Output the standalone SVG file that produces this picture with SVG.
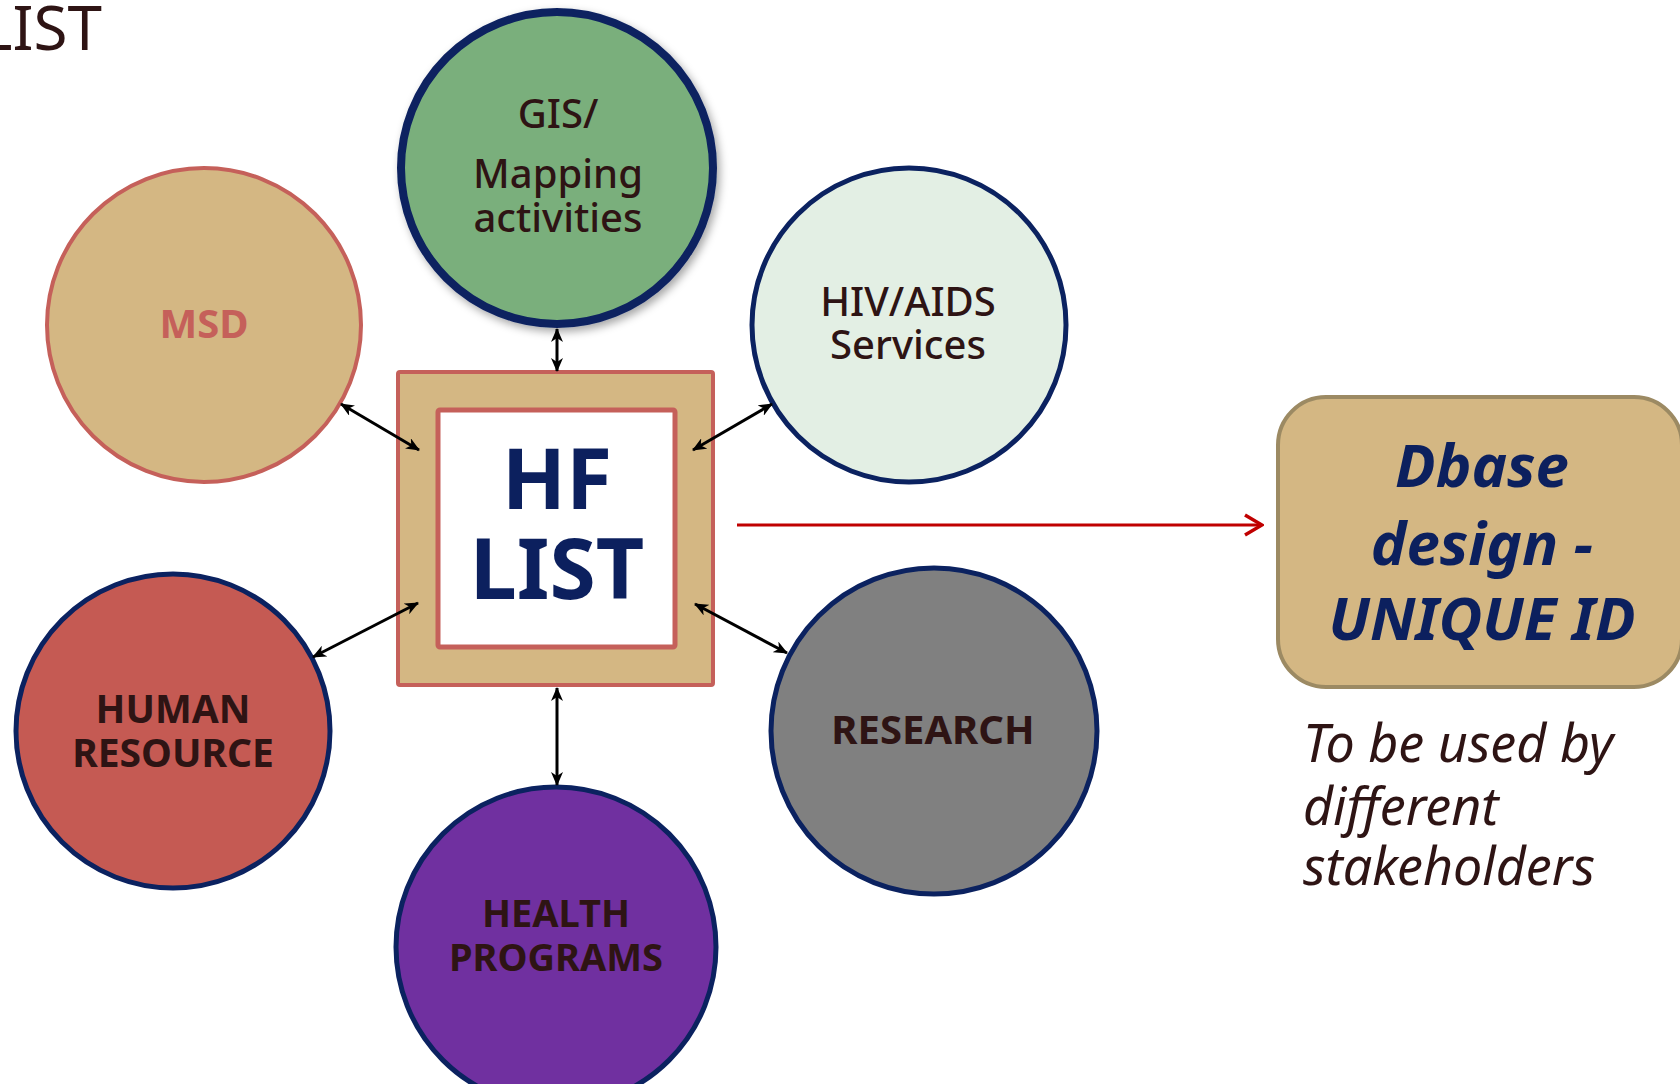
<svg xmlns="http://www.w3.org/2000/svg" width="1680" height="1084" viewBox="0 0 1680 1084">
<style>
.t{font-family:"Noto Sans","Open Sans","DejaVu Sans",sans-serif;fill:#2e1414;text-anchor:middle}
.b{font-weight:bold}
.nav{stroke:#0b2260;stroke-width:5}
.conn{stroke:#000;stroke-width:3;fill:none}
</style>
<defs>
<marker id="ah" viewBox="0 0 14 12" refX="13" refY="6" markerWidth="14" markerHeight="12" markerUnits="userSpaceOnUse" orient="auto-start-reverse">
<path d="M0,0 L14,6 L0,12 L4,6 z" fill="#000"/>
</marker>
<marker id="rh" viewBox="0 0 22 26" refX="20" refY="13" markerWidth="22" markerHeight="26" markerUnits="userSpaceOnUse" orient="auto">
<path d="M3,3 L20,13 L3,23" fill="none" stroke="#c00000" stroke-width="3.5"/>
</marker>
<filter id="sh" x="-10%" y="-10%" width="125%" height="125%">
<feDropShadow dx="3" dy="4" stdDeviation="4" flood-color="#000" flood-opacity="0.35"/>
</filter>
</defs>
<rect width="1680" height="1084" fill="#fff"/>
<text class="t" x="102" y="50" font-size="62" style="text-anchor:end">LIST</text>

<g id="gis">
<circle cx="557" cy="168" r="156" fill="#7aaf7c" stroke="#0b2260" stroke-width="8" filter="url(#sh)"/>
<text class="t" x="558" y="128" font-size="40" font-weight="500">GIS/</text>
<text class="t" x="558" y="188" font-size="40" font-weight="500">Mapping</text>
<text class="t" x="558" y="232" font-size="40" font-weight="500">activities</text>
</g>

<g id="msd">
<circle cx="204" cy="325" r="157" fill="#d4b783" stroke="#c5605a" stroke-width="4"/>
<text class="t b" x="204" y="338" font-size="40" style="fill:#c5605a">MSD</text>
</g>

<g id="hiv">
<circle cx="909" cy="325" r="157" fill="#e3efe4" class="nav" stroke-width="4"/>
<text class="t" x="908" y="316" font-size="40" font-weight="500">HIV/AIDS</text>
<text class="t" x="908" y="359" font-size="40" font-weight="500">Services</text>
</g>

<g id="hflist">
<rect x="398" y="372" width="315" height="313" fill="#d4b783" stroke="#c5605a" stroke-width="4" rx="2"/>
<rect x="438" y="410" width="237" height="237" fill="#fff" stroke="#c5605a" stroke-width="5" rx="2"/>
<text class="t b" x="557" y="509" font-size="84" style="fill:#0c205e">HF</text>
<text class="t b" x="557" y="599" font-size="84" style="fill:#0c205e">LIST</text>
</g>

<g id="hr">
<circle cx="173" cy="731" r="157" fill="#c55a53" class="nav"/>
<text class="t b" x="173" y="723" font-size="39">HUMAN</text>
<text class="t b" x="173" y="767" font-size="39">RESOURCE</text>
</g>

<g id="research">
<circle cx="934" cy="731" r="163" fill="#808080" class="nav"/>
<text class="t b" x="933" y="744" font-size="40">RESEARCH</text>
</g>

<g id="health">
<circle cx="556" cy="947" r="160" fill="#7030a0" class="nav"/>
<text class="t b" x="556" y="927" font-size="38">HEALTH</text>
<text class="t b" x="556" y="971" font-size="38">PROGRAMS</text>
</g>

<g id="dbase">
<rect x="1278" y="397" width="404" height="290" rx="48" fill="#d4b783" stroke="#9c8a63" stroke-width="4"/>
<text class="t b" x="1482" y="487" font-size="60" font-style="italic" style="fill:#0c205e">Dbase</text>
<text class="t b" x="1482" y="565" font-size="60" font-style="italic" style="fill:#0c205e">design -</text>
<text class="t b" x="1482" y="640" font-size="60" font-style="italic" style="fill:#0c205e">UNIQUE ID</text>
</g>

<g id="note">
<text class="t" x="1303" y="762" font-size="52" font-style="italic" style="text-anchor:start">To be used by</text>
<text class="t" x="1303" y="825" font-size="52" font-style="italic" style="text-anchor:start">different</text>
<text class="t" x="1303" y="885" font-size="52" font-style="italic" style="text-anchor:start">stakeholders</text>
</g>

<g id="connectors">
<line class="conn" x1="557" y1="329" x2="557" y2="371" marker-start="url(#ah)" marker-end="url(#ah)"/>
<line class="conn" x1="341" y1="404" x2="419" y2="450" marker-start="url(#ah)" marker-end="url(#ah)"/>
<line class="conn" x1="772" y1="404" x2="693" y2="450" marker-start="url(#ah)" marker-end="url(#ah)"/>
<line class="conn" x1="313" y1="657" x2="418" y2="603" marker-start="url(#ah)" marker-end="url(#ah)"/>
<line class="conn" x1="695" y1="604" x2="787" y2="653" marker-start="url(#ah)" marker-end="url(#ah)"/>
<line class="conn" x1="557" y1="688" x2="557" y2="785" marker-start="url(#ah)" marker-end="url(#ah)"/>
<line x1="737" y1="525" x2="1262" y2="525" stroke="#c00000" stroke-width="3" marker-end="url(#rh)"/>
</g>
</svg>
